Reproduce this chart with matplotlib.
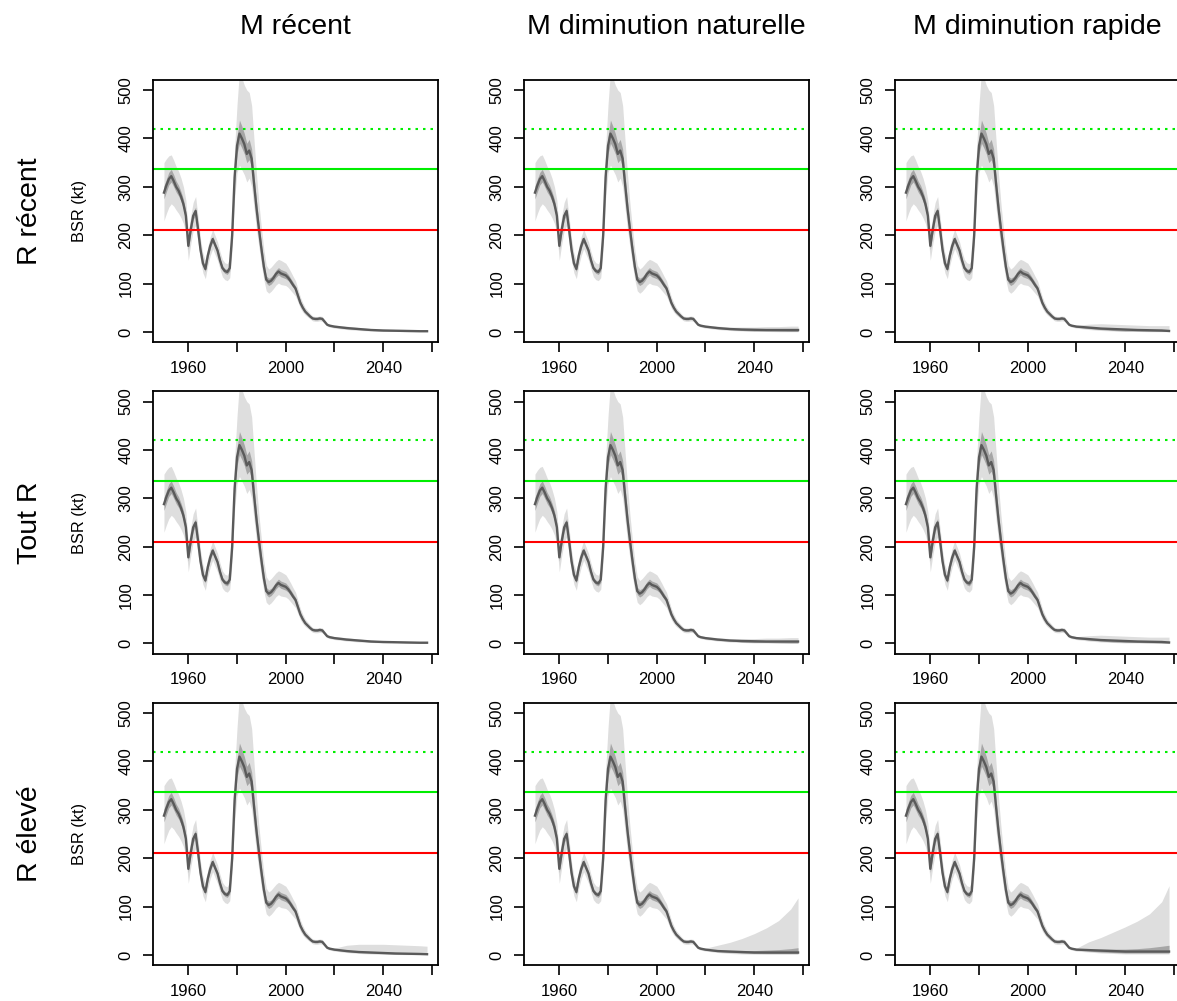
import numpy as np
import matplotlib
matplotlib.use("Agg")
import matplotlib.pyplot as plt

plt.rcParams['font.family'] = ['Liberation Sans', 'DejaVu Sans']

# titres
col_titles = ["M récent", "M diminution naturelle", "M diminution rapide"]
row_titles = ["R récent", "Tout R", "R élevé"]

# points de référence (kt)
lrp = 210
usr = 336
bmsy = 420

# période historique
hist_years = np.arange(1950, 2020)
hist_med = [288, 303, 316, 322, 312, 300, 292, 280, 264, 240,
            178, 212, 240, 250, 212, 170, 142, 130, 158, 178,
            192, 180, 168, 148, 132, 126, 124, 132, 200, 320,
            385, 410, 400, 388, 368, 375, 358, 305, 255, 212,
            172, 135, 108, 103, 106, 112, 120, 125, 121, 119,
            117, 112, 105, 97, 90, 75, 60, 50, 42, 37,
            32, 28, 27, 27, 28, 27, 21, 15, 13, 12]
hist_lo95 = [230, 245, 258, 265, 260, 252, 245, 236, 224, 205,
             148, 182, 210, 220, 185, 148, 122, 110, 138, 158,
             172, 160, 148, 130, 114, 108, 106, 112, 170, 275,
             330, 345, 335, 325, 310, 318, 300, 255, 212, 175,
             140, 108, 85, 80, 84, 90, 97, 101, 98, 97,
             96, 92, 86, 80, 74, 62, 49, 41, 35, 31,
             27, 23, 22, 22, 23, 22, 17, 12, 10, 9]
hist_hi95 = [350, 358, 364, 366, 355, 342, 332, 318, 300, 272,
             205, 240, 268, 280, 238, 192, 162, 148, 176, 197,
             212, 199, 186, 166, 150, 143, 141, 152, 235, 380,
             470, 540, 525, 510, 500, 495, 468, 395, 325, 265,
             215, 170, 138, 130, 134, 140, 146, 150, 148, 145,
             142, 134, 125, 115, 106, 89, 72, 60, 50, 44,
             38, 33, 32, 32, 33, 32, 25, 18, 16, 15]
hist_lo50 = [275, 290, 304, 310, 300, 289, 281, 270, 254, 231,
             170, 204, 232, 242, 205, 164, 137, 125, 153, 173,
             186, 175, 163, 143, 127, 121, 119, 126, 192, 308,
             368, 390, 380, 368, 350, 356, 340, 290, 242, 201,
             163, 127, 101, 96, 99, 105, 113, 118, 114, 112,
             110, 106, 99, 92, 85, 71, 57, 47, 40, 35,
             30, 26, 25, 25, 26, 25, 20, 14, 12, 11]
hist_hi50 = [302, 316, 330, 336, 325, 312, 303, 290, 274, 249,
             186, 220, 248, 258, 219, 176, 147, 135, 163, 183,
             198, 185, 173, 153, 137, 131, 129, 138, 208, 334,
             405, 438, 425, 410, 390, 398, 378, 322, 270, 224,
             182, 144, 116, 111, 114, 120, 128, 133, 129, 127,
             125, 119, 111, 103, 95, 80, 64, 53, 45, 39,
             34, 30, 29, 29, 30, 29, 22, 16, 14, 13]

# projections (par colonne M ; lignes R récent / tout R identiques, R élevé à part)
proj_years = [2020, 2025, 2030, 2035, 2040, 2045, 2050, 2055, 2058]

proj_med = [
    [[11, 8, 6, 4, 3, 2.5, 2, 1.5, 1.5],
     [11, 8, 6, 5, 4.5, 4, 4, 4, 4],
     [11, 9, 7, 6, 5, 4, 3.5, 3, 2]],
    [[11, 8, 6, 4, 3, 2.5, 2, 1.5, 1.5],
     [11, 8, 6, 5, 4.5, 4, 4, 4, 4],
     [11, 9, 7, 6, 5, 4, 3.5, 3, 2]],
    [[11, 8, 6, 5, 4, 3, 2.5, 2, 1.5],
     [11, 8, 7, 6, 5, 5, 5, 5, 5],
     [11, 10, 9, 8, 7, 7, 7, 7, 7]],
]
proj_lo95 = [
    [[8, 5, 3, 2, 1, 1, 0.5, 0.5, 0.5]] * 3,
    [[8, 5, 3, 2, 1, 1, 0.5, 0.5, 0.5]] * 3,
    [[8, 5, 3, 2, 1, 1, 0.5, 0.5, 0.5],
     [8, 5, 3, 2, 1.5, 1, 1, 1, 1],
     [8, 6, 4, 3, 2, 2, 2, 2, 2]],
]
proj_hi95 = [
    [[14, 12, 9, 7, 5, 4, 3.5, 3, 3],
     [14, 12, 10, 10, 10, 11, 11, 12, 12],
     [14, 16, 17, 16, 15, 14, 13, 13, 13]],
    [[14, 12, 9, 7, 5, 4, 3.5, 3, 3],
     [14, 12, 10, 10, 10, 11, 11, 12, 12],
     [14, 16, 17, 16, 15, 14, 13, 13, 13]],
    [[14, 20, 22, 22, 22, 21, 20, 19, 18],
     [14, 20, 26, 34, 44, 56, 71, 95, 118],
     [14, 27, 36, 47, 58, 70, 85, 110, 143]],
]
proj_lo50 = [
    [[10, 7, 5, 3, 2, 2, 1.5, 1, 1]] * 3,
    [[10, 7, 5, 3, 2, 2, 1.5, 1, 1]] * 3,
    [[10, 7, 5, 4, 3, 2, 2, 1.5, 1],
     [10, 7, 5, 4, 3.5, 3, 3, 3, 3],
     [10, 8, 6, 5, 4, 4, 4, 4, 4]],
]
proj_hi50 = [
    [[12, 9, 7, 5, 4, 3, 2.5, 2, 2],
     [12, 9, 7, 6, 6, 6, 6, 6, 6],
     [12, 10, 8, 7, 6, 5, 4.5, 4, 3]],
    [[12, 9, 7, 5, 4, 3, 2.5, 2, 2],
     [12, 9, 7, 6, 6, 6, 6, 6, 6],
     [12, 10, 8, 7, 6, 5, 4.5, 4, 3]],
    [[12, 10, 8, 7, 6, 5, 4, 4, 3.5],
     [12, 10, 9, 9, 9, 10, 11, 13, 15],
     [12, 12, 12, 12, 12, 13, 15, 18, 20]],
]

W, H = 1177, 1001
fig = plt.figure(figsize=(W / 100, H / 100), dpi=100)

for r in range(3):
    for c in range(3):
        left = 153 + 371 * c
        top = 80 + 311.5 * r
        ax = fig.add_axes([left / W, 1 - (top + 262) / H, 285 / W, 262 / H])

        yrs = np.concatenate([hist_years, proj_years])
        med = np.concatenate([hist_med, proj_med[r][c]])
        lo95 = np.concatenate([hist_lo95, proj_lo95[r][c]])
        hi95 = np.concatenate([hist_hi95, proj_hi95[r][c]])
        lo50 = np.concatenate([hist_lo50, proj_lo50[r][c]])
        hi50 = np.concatenate([hist_hi50, proj_hi50[r][c]])

        ax.fill_between(yrs, lo95, hi95, color='#dedede', lw=0)
        ax.fill_between(yrs, lo50, hi50, color='#a6a6a6', lw=0)
        ax.plot(yrs, med, color='#5a5a5a', lw=1.7)

        ax.axhline(lrp, color='#ff0000', lw=1.5)
        ax.axhline(usr, color='#00ee00', lw=1.5)
        ax.axhline(bmsy, color='#00ee00', lw=1.5, ls=(0, (1.2, 2.4)))

        ax.set_xlim(1945.5, 2062.5)
        ax.set_ylim(-20.8, 520.8)
        ax.set_xticks([1960, 1980, 2000, 2020, 2040, 2060])
        ax.set_xticklabels(["1960", "", "2000", "", "2040", ""])
        ax.set_yticks([0, 100, 200, 300, 400, 500])
        for lab in ax.get_yticklabels():
            lab.set_rotation(90)
            lab.set_va('center')
        ax.tick_params(axis='both', length=7.5, width=1.2, labelsize=12,
                       color='black')
        ax.tick_params(axis='y', pad=6.5)
        ax.tick_params(axis='x', pad=6)
        for sp in ax.spines.values():
            sp.set_linewidth(1.3)
        if c == 0:
            ax.set_ylabel("BSR (kt)", fontsize=11.8)
            ax.yaxis.set_label_coords(-0.23, 0.5)

for c, t in enumerate(col_titles):
    fig.text((295 + 371 * c) / W, 1 - 27 / H, t, ha='center', va='center',
             fontsize=20.5)
for r, t in enumerate(row_titles):
    fig.text(30 / W, 1 - (211 + 311.5 * r) / H, t, ha='center', va='center',
             rotation=90, fontsize=20.5)

fig.savefig("out.png", dpi=100)
